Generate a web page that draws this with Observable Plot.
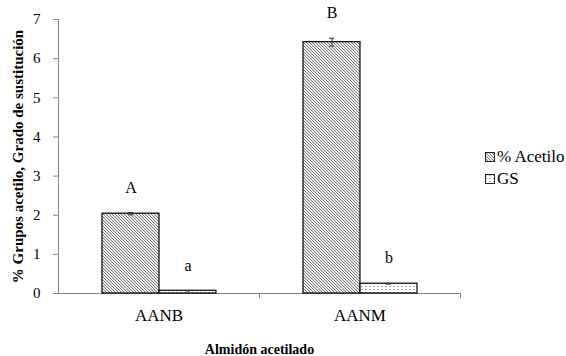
<!DOCTYPE html>
<html>
<head>
<meta charset="utf-8">
<script src="https://cdn.jsdelivr.net/npm/d3@7"></script>
<script src="https://cdn.jsdelivr.net/npm/@observablehq/plot@0.6"></script>
<style>
  body { margin: 0; background: #fff; }
  #wrap { position: relative; width: 566px; height: 356px; font-family: "Liberation Serif", "Times New Roman", Times, serif; }
  #legend { position: absolute; left: 485px; top: 146px; font-size: 17px; color: #000; }
  #legend .item { display: flex; align-items: center; height: 22px; white-space: nowrap; }
  #legend svg { margin-right: 2px; }
  #wrap svg, #wrap svg text { font-family: "Liberation Serif", "Times New Roman", Times, serif !important; }
</style>
</head>
<body>
<svg width="0" height="0" style="position:absolute">
  <defs>
    <pattern id="hatch" patternUnits="userSpaceOnUse" width="3" height="3">
      <rect width="3" height="3" fill="#ececec"></rect>
      <path d="M0,0L3,3M-1,2L1,4M2,-1L4,1" stroke="#707070" stroke-width="0.9"></path>
    </pattern>
    <pattern id="dots" patternUnits="userSpaceOnUse" width="4" height="3">
      <rect width="4" height="3" fill="#ffffff"></rect>
      <rect x="0" y="1" width="2" height="1" fill="#a6a6a6"></rect>
    </pattern>
  </defs>
</svg>
<div id="wrap"><div id="legend"></div></div>
<script>
// ---- data ----
const categories = ["AANB", "AANM"];
const series = ["% Acetilo", "GS"];
const acetilo = [2.04, 6.42];
const acetiloErr = [0.03, 0.10];
const gs = [0.07, 0.25];
const gsErr = [0.005, 0.01];
const acetiloLetters = ["A", "B"];
const gsLetters = ["a", "b"];
const yTicks = [0, 1, 2, 3, 4, 5, 6, 7];
const yTitle = "% Grupos acetilo, Grado de sustitución";
const xTitle = "Almidón acetilado";
const seriesFill = ["url(#hatch)", "url(#dots)"];

// table built from arrays
const rows = [];
categories.forEach((c, i) => {
  rows.push({cat: c, series: series[0], value: acetilo[i], err: acetiloErr[i], letter: acetiloLetters[i]});
  rows.push({cat: c, series: series[1], value: gs[i], err: gsErr[i], letter: gsLetters[i]});
});

// ---- layout ----
const W = 566, H = 356, ML = 58, MR = 106, MT = 19, MB = 63;
const facetW = (W - ML - MR) / categories.length;
const axisGrey = "#868686";
const font = "Liberation Serif";

const chart = Plot.plot({
  width: W, height: H,
  marginLeft: ML, marginRight: MR, marginTop: MT, marginBottom: MB,
  style: {fontFamily: font, background: "transparent", color: "#000"},
  fx: {domain: categories, paddingInner: 0, paddingOuter: 0, axis: null},
  x: {domain: series, paddingInner: 0, paddingOuter: 0.733, axis: null},
  y: {domain: [0, 7], axis: null},
  color: {domain: series, range: seriesFill},
  marks: [
    Plot.frame({anchor: "left", facetAnchor: "left", stroke: axisGrey}),
    Plot.ruleY([0], {stroke: axisGrey}),
    Plot.axisY({ticks: yTicks, tickFormat: d3.format("d"), tickSize: 5, tickPadding: 13, fontSize: 15, stroke: axisGrey, label: null}),
    Plot.axisY({ticks: [], tickSize: 0, label: yTitle, labelArrow: "none", labelAnchor: "center", labelOffset: 46, fontSize: 15, fontWeight: "bold"}),
    Plot.axisFx({anchor: "bottom", tickSize: 0, tickPadding: 15, fontSize: 17, label: null}),
    Plot.axisFx({anchor: "bottom", text: null, tickSize: 5, dx: facetW / 2, stroke: axisGrey, label: null}),
    Plot.axisFx({anchor: "bottom", ticks: [], tickSize: 0, label: xTitle, labelArrow: "none", labelAnchor: "center", labelOffset: 60, fontSize: 14, fontWeight: "bold"}),
    Plot.barY(rows, {fx: "cat", x: "series", y: "value", fill: "series", stroke: "#000", strokeWidth: 1.2}),
    Plot.ruleX(rows, {fx: "cat", x: "series", y1: d => d.value - d.err, y2: d => d.value + d.err, stroke: "#333"}),
    Plot.tickY(rows, {fx: "cat", x: "series", y: d => d.value + d.err, stroke: "#333", insetLeft: 26, insetRight: 26}),
    Plot.tickY(rows, {fx: "cat", x: "series", y: d => d.value - d.err, stroke: "#333", insetLeft: 26, insetRight: 26}),
    Plot.text(rows, {fx: "cat", x: "series", y: d => d.value + d.err, text: "letter", dy: -25, fontSize: 16, fill: "#000"})
  ]
});
const wrap = document.getElementById("wrap");
wrap.insertBefore(chart, wrap.firstChild);

// legend
const legend = document.getElementById("legend");
series.forEach((s, i) => {
  const item = document.createElement("div");
  item.className = "item";
  item.innerHTML = `<svg width="10" height="10"><rect x="0.5" y="0.5" width="9" height="9" fill="${seriesFill[i]}" stroke="#222"></rect></svg><span>${s}</span>`;
  legend.appendChild(item);
});
</script>
</body>
</html>
